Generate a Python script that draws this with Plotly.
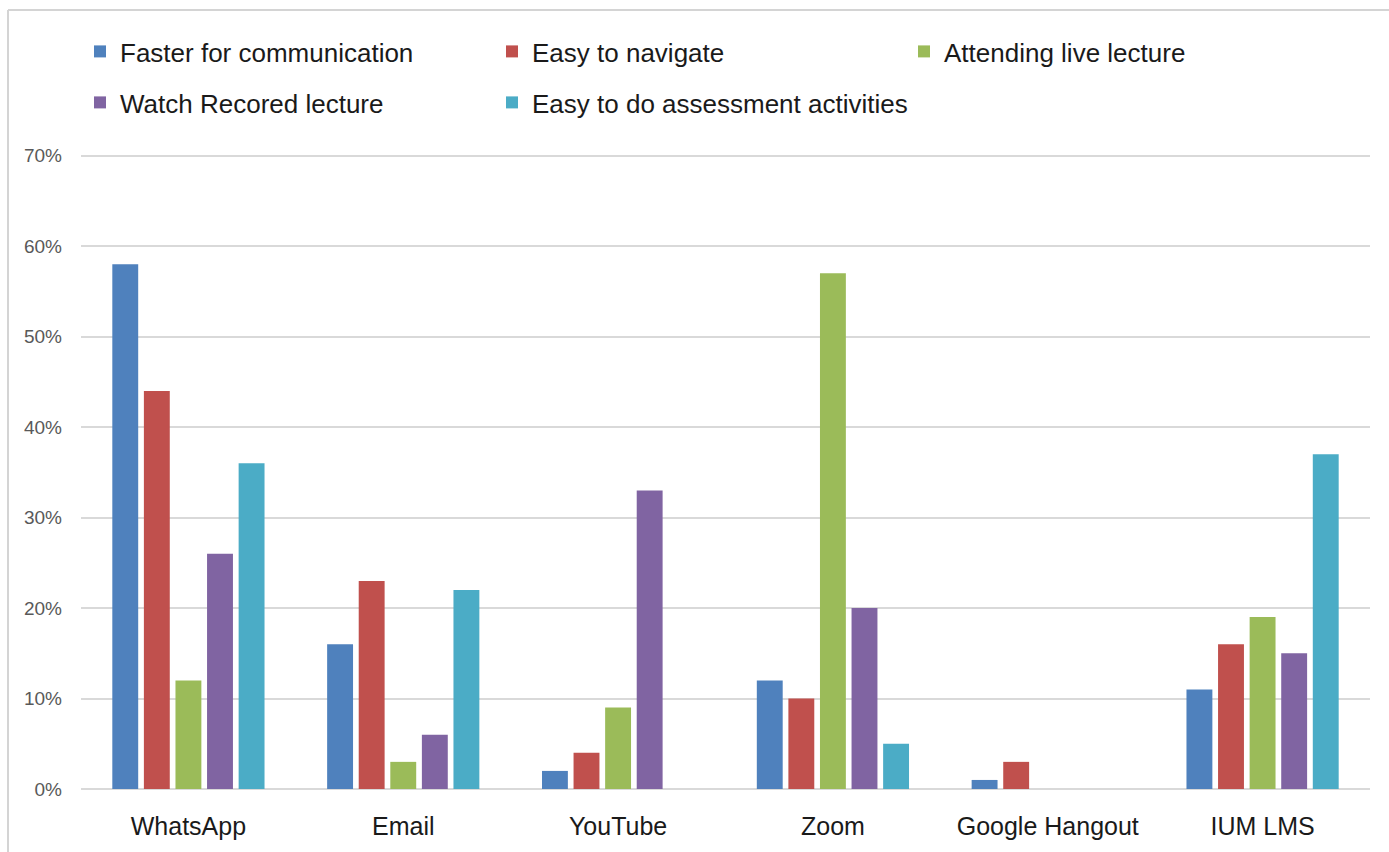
import plotly.graph_objects as go

categories = ["WhatsApp", "Email", "YouTube", "Zoom", "Google Hangout", "IUM LMS"]
series_names = ["Faster for communication", "Easy to navigate", "Attending live lecture",
                "Watch Recored lecture", "Easy to do assessment activities"]
faster = [58, 16, 2, 12, 1, 11]
navigate = [44, 23, 4, 10, 3, 16]
live = [12, 3, 9, 57, 0, 19]
recorded = [26, 6, 33, 20, 0, 15]
assessment = [36, 22, 0, 5, 0, 37]
y_ticks = [0, 10, 20, 30, 40, 50, 60, 70]
y_tick_labels = ["0%", "10%", "20%", "30%", "40%", "50%", "60%", "70%"]

colors = ["#4F81BD", "#C0504D", "#9BBB59", "#8064A2", "#4BACC6"]
series = [faster, navigate, live, recorded, assessment]
legends = ["legend", "legend", "legend", "legend2", "legend2"]

fig = go.Figure()
for name, vals, col, lg in zip(series_names, series, colors, legends):
    fig.add_trace(go.Bar(x=categories, y=vals, name=name, marker_color=col,
                         marker_line_width=0, legend=lg))
# invisible spacer legend entry so the last legend label is not clipped
fig.add_trace(go.Scatter(x=[categories[0]], y=[None], mode="markers", name=" ", legend="legend2",
                         marker=dict(color="rgba(0,0,0,0)"), hoverinfo="skip"))

W, H = 1389, 852
YMAX = 70.3
L, R, B = 81, 19, 63
ph = round(633 * YMAX / 70)
T = H - B - ph
pw = W - L - R

def px(x):
    return (x - L) / pw

def py(y):
    return (H - B - y) / ph

legend_font = dict(family="Liberation Sans, Arial, sans-serif", size=26, color="#1a1a1a")
fig.update_layout(
    width=W, height=H,
    margin=dict(l=L, r=R, t=T, b=B),
    paper_bgcolor="white", plot_bgcolor="white",
    barmode="group", bargap=0.265, bargroupgap=0.18,
    showlegend=True,
    legend=dict(orientation="h", x=px(80), y=py(28), xanchor="left", yanchor="top",
                entrywidth=367, font=legend_font, bgcolor="rgba(0,0,0,0)"),
    legend2=dict(orientation="h", x=px(80), y=py(79), xanchor="left", yanchor="top",
                 entrywidth=367, font=legend_font, bgcolor="rgba(0,0,0,0)"),
    xaxis=dict(showgrid=False, showline=False, zeroline=False, ticks="",
               tickfont=dict(family="Liberation Sans, Arial, sans-serif", size=25, color="#1a1a1a"),
               ticklabelstandoff=20),
    yaxis=dict(range=[0, YMAX], tickvals=y_ticks, ticktext=y_tick_labels,
               showgrid=True, gridcolor="#d9d9d9", gridwidth=2,
               zeroline=True, zerolinecolor="#d9d9d9", zerolinewidth=2,
               showline=False, ticks="",
               tickfont=dict(family="Liberation Sans, Arial, sans-serif", size=19, color="#595959"),
               ticklabelstandoff=18),
    shapes=[
        dict(type="line", xref="paper", yref="paper", x0=px(8), x1=px(1389), y0=py(10), y1=py(10),
             line=dict(color="#d4d4d4", width=2)),
        dict(type="line", xref="paper", yref="paper", x0=px(8), x1=px(8), y0=py(10), y1=py(852),
             line=dict(color="#d4d4d4", width=2)),
    ],
)

fig.write_html("out.html")
